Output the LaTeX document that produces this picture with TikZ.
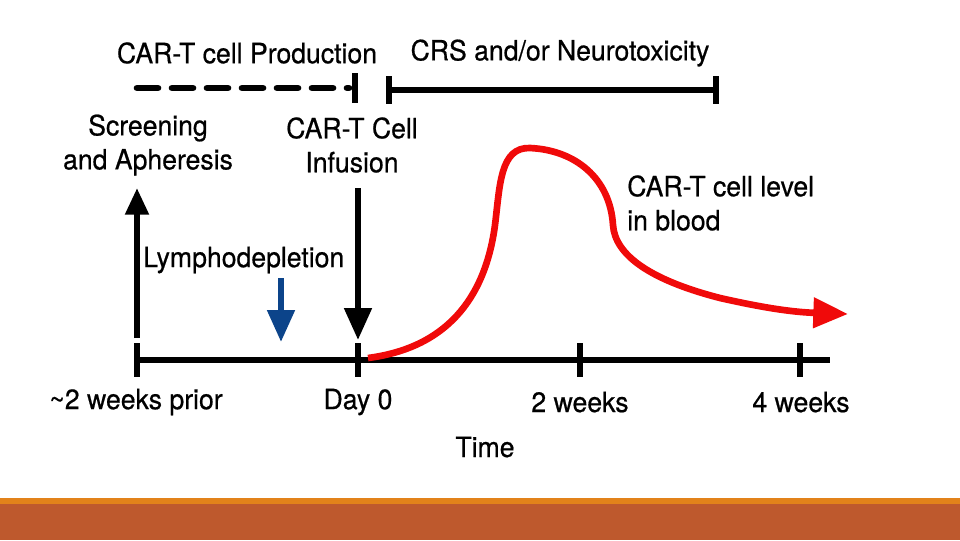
\documentclass[tikz,border=0pt]{standalone}
\usepackage{fontspec}
\setmainfont{TeX Gyre Heros}[FakeBold=0.6, FakeStretch=0.95]
\usetikzlibrary{arrows.meta}
\usetikzlibrary{positioning}
\definecolor{lymphblue}{RGB}{12,68,138}
\definecolor{levelred}{RGB}{240,10,10}
\definecolor{bandorange}{RGB}{226,130,26}
\definecolor{bandbrown}{RGB}{190,89,45}

\begin{document}
\begin{tikzpicture}[x=0.75pt,y=-0.75pt,
  lbl/.style={font=\fontsize{21}{25.5}\selectfont, inner sep=0pt, align=center},
  axisline/.style={line width=4.5pt},
  tickmark/.style={line width=4pt},
  spanline/.style={line width=4.5pt},
  eventarrow/.style={line width=4.5pt, -{Triangle[length=24pt,width=20pt]}},
  levelcurve/.style={draw=levelred, line width=5pt, -{Triangle[length=26pt,width=22pt]}}
]
\useasboundingbox (0,0) rectangle (960,540);
\fill [bandorange] (0,498) rectangle (960,505);
\fill [bandbrown] (0,504) rectangle (960,540);

% time axis
\coordinate (axL) at (135,360);
\coordinate (axR) at (830,360);
\draw [axisline] (axL) -- (axR);
\foreach \x/\name in {137/t0, 358/t1, 580/t2, 800/t3} {
  \coordinate (\name top) at (\x,343);
  \coordinate (\name bot) at (\x,377);
  \draw [tickmark] (\name top) -- (\name bot);
}
\node [lbl] (prior) at (136,402) {\textasciitilde 2 weeks prior};
\node [lbl] (day0) at (358,402) {Day 0};
\node [lbl] (wk2) at (580,402) {2 weeks};
\node [lbl] (wk4) at (801,402) {4 weeks};
\node [lbl] (time) at (485,447) {Time};

% phases on top
\node [lbl] (prod) at (247,53) {CAR-T cell Production};
\node [lbl] (crs) at (560,53) {CRS and/or Neurotoxicity};
\coordinate (prodL) at (137,88);
\coordinate (prodR) at (349,88);
\draw [line width=5pt, line cap=round, dash pattern=on 15.75pt off 10.5pt] (prodL) -- (prodR);
\draw [tickmark] (355,73) coordinate (prodBarT) -- (355,103) coordinate (prodBarB);
\coordinate (crsL) at (389,90);
\coordinate (crsR) at (716,90);
\draw [spanline] (crsL) -- (crsR);
\draw [tickmark] (389,76) -- (389,104);
\draw [tickmark] (716,76) -- (716,104);

% events
\node [lbl] (screen) at (148,145) {Screening\\and Apheresis};
\node [lbl] (infuse) at (352,145) {CAR-T Cell\\Infusion};
\node [lbl, anchor=west] (lympho) at (143,260) {Lymphodepletion};
\coordinate (screenFoot) at (137,338);
\coordinate (screenTip) at (137,188);
\draw [line width=4.5pt, -{Triangle[length=20pt,width=17pt]}] (screenFoot) -- (screenTip);
\coordinate (infuseTop) at (358,188);
\coordinate (infuseTip) at (358,340);
\draw [eventarrow] (infuseTop) -- (infuseTip);
\coordinate (lymphoTop) at (281,278);
\coordinate (lymphoTip) at (281,342);
\draw [eventarrow, draw=lymphblue, fill=lymphblue] (lymphoTop) -- (lymphoTip);

% CAR-T level curve
\node [lbl, anchor=west, align=left] (level) at (627,203) {CAR-T cell level\\in blood};
\coordinate (levelStart) at (368,358);
\coordinate (levelEnd) at (848,314);
\draw [levelcurve] (levelStart) .. controls (445,348) and (485,300) .. (495,225)
  .. controls (500,185) and (500,147) .. (530,148)
  .. controls (575,150) and (610,178) .. (613,225)
  .. controls (615,255) and (650,280) .. (720,298)
  .. controls (760,307) and (790,312) .. (levelEnd);
\end{tikzpicture}
\end{document}
